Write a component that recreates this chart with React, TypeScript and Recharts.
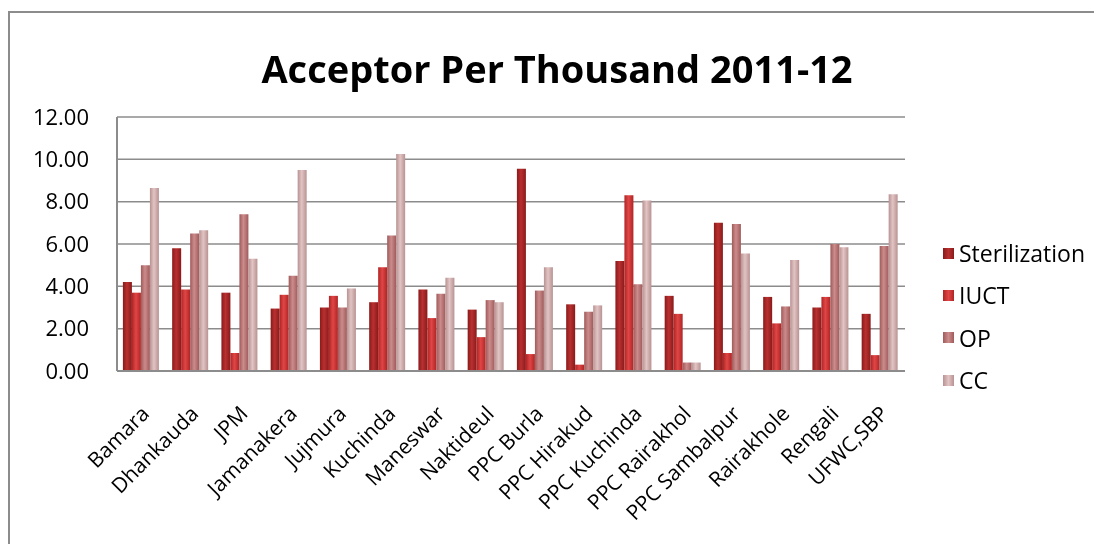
import React from "react";
import { BarChart, Bar, XAxis, YAxis, CartesianGrid } from "recharts";

const categories = [
  "Bamara", "Dhankauda", "JPM", "Jamanakera", "Jujmura", "Kuchinda", "Maneswar", "Naktideul",
  "PPC Burla", "PPC Hirakud", "PPC Kuchinda", "PPC Rairakhol", "PPC Sambalpur", "Rairakhole", "Rengali", "UFWC,SBP",
];
const sterilization = [4.2, 5.8, 3.7, 2.95, 3.0, 3.25, 3.85, 2.9, 9.55, 3.15, 5.2, 3.55, 7.0, 3.5, 3.0, 2.7];
const iuct = [3.7, 3.85, 0.85, 3.6, 3.55, 4.9, 2.5, 1.6, 0.8, 0.3, 8.3, 2.7, 0.85, 2.25, 3.5, 0.75];
const op = [5.0, 6.5, 7.4, 4.5, 3.0, 6.4, 3.65, 3.35, 3.8, 2.8, 4.1, 0.4, 6.95, 3.05, 6.0, 5.9];
const cc = [8.65, 6.65, 5.3, 9.5, 3.9, 10.25, 4.4, 3.25, 4.9, 3.1, 8.05, 0.4, 5.55, 5.25, 5.85, 8.35];
const yTicks = [0, 2, 4, 6, 8, 10, 12];

const series = [
  { key: "sterilization", name: "Sterilization", edge: "#8a1a1a", mid: "#b93030" },
  { key: "iuct", name: "IUCT", edge: "#b02424", mid: "#e04646" },
  { key: "op", name: "OP", edge: "#a05a5a", mid: "#cc8c8c" },
  { key: "cc", name: "CC", edge: "#b89292", mid: "#e2c4c4" },
];

const data = categories.map((name, i) => ({
  name,
  sterilization: sterilization[i],
  iuct: iuct[i],
  op: op[i],
  cc: cc[i],
}));

const font = "'Open Sans', sans-serif";

const XTick = (props: any) => {
  const { x, y, payload } = props;
  return (
    <g transform={`translate(${x + 9},${y + 36})`}>
      <text x={0} y={0} textAnchor="end" transform="rotate(-45)" fontSize={21} fill="#000" fontFamily={font}>
        {payload.value}
      </text>
    </g>
  );
};

export default function App() {
  return (
    <div style={{ position: "relative", width: 1086, height: 528, fontFamily: font }}>
      <style>{`html, body { overflow: hidden; }`}</style>
      <div
        style={{
          position: "fixed",
          left: 8,
          top: 11,
          width: 1200,
          height: 700,
          borderTop: "2px solid #8c8c8c",
          borderLeft: "2px solid #8c8c8c",
          boxSizing: "border-box",
        }}
      />
      <div
        style={{
          position: "absolute",
          left: 0,
          width: 1098,
          top: 34,
          textAlign: "center",
          fontSize: 38,
          fontWeight: 700,
          color: "#000",
        }}
      >
        Acceptor Per Thousand 2011-12
      </div>
      <div style={{ position: "absolute", left: 0, top: 0 }}>
        <BarChart
          width={1086}
          height={528}
          data={data}
          margin={{ top: 109, right: 189, bottom: 55, left: 9 }}
          barCategoryGap="12%"
          barGap={0}
        >
          <defs>
            {series.map((s) => (
              <linearGradient key={s.key} id={`g-${s.key}`} x1="0" y1="0" x2="1" y2="0">
                <stop offset="0%" stopColor={s.edge} />
                <stop offset="45%" stopColor={s.mid} />
                <stop offset="100%" stopColor={s.edge} />
              </linearGradient>
            ))}
          </defs>
          <CartesianGrid vertical={false} stroke="#8c8c8c" strokeWidth={1.5} />
          <XAxis
            dataKey="name"
            interval={0}
            height={110}
            tick={<XTick />}
            tickLine={false}
            axisLine={{ stroke: "#8c8c8c", strokeWidth: 2 }}
          />
          <YAxis
            width={100}
            domain={[0, 12]}
            ticks={yTicks}
            tickFormatter={(v: number) => v.toFixed(2)}
            tick={{ fontSize: 22, fill: "#000", fontFamily: font }}
            tickLine={false}
            tickMargin={22}
            axisLine={{ stroke: "#8c8c8c", strokeWidth: 2 }}
          />
          {series.map((s) => (
            <Bar key={s.key} dataKey={s.key} name={s.name} fill={`url(#g-${s.key})`} isAnimationActive={false} />
          ))}
        </BarChart>
      </div>
      <div style={{ position: "absolute", left: 935, top: 224 }}>
        {series.map((s) => (
          <div key={s.key} style={{ display: "flex", alignItems: "center", height: 42.3, fontSize: 23, color: "#000" }}>
            <span
              style={{
                display: "inline-block",
                width: 11,
                height: 11,
                marginRight: 5,
                background: `linear-gradient(to right, ${s.edge}, ${s.mid}, ${s.edge})`,
              }}
            />
            {s.name}
          </div>
        ))}
      </div>
    </div>
  );
}
